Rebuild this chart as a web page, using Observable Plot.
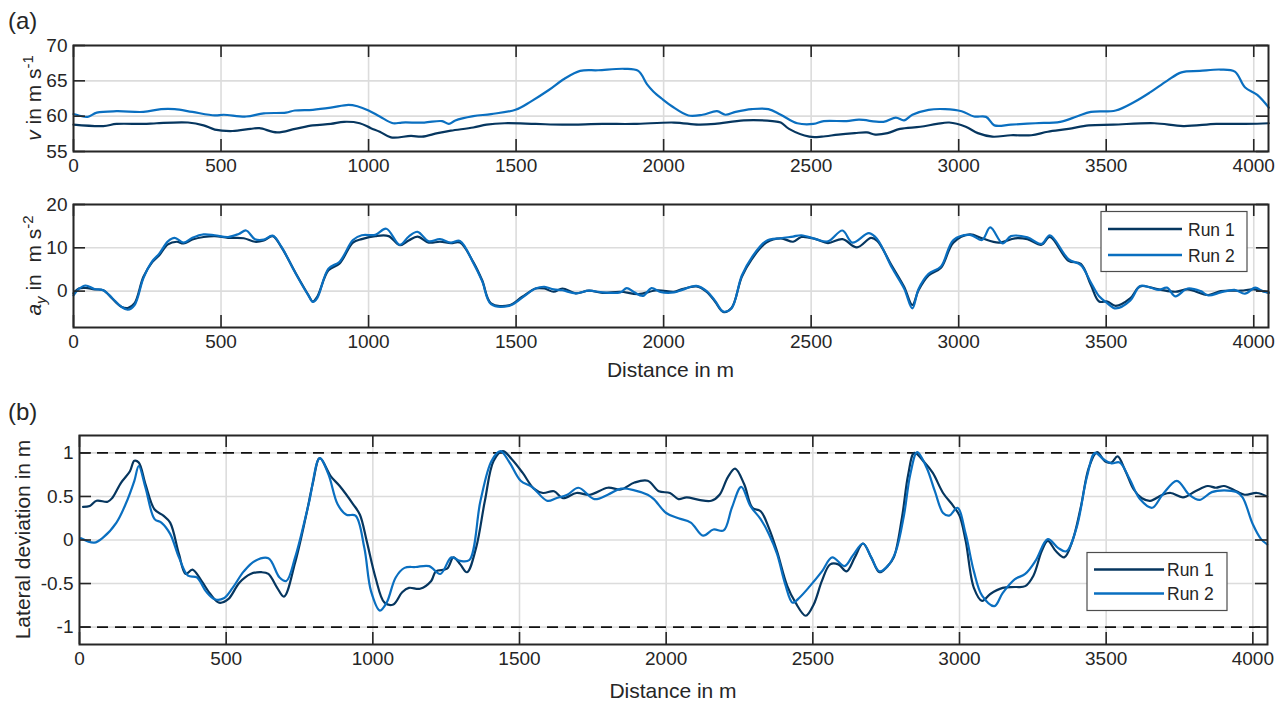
<!DOCTYPE html>
<html><head><meta charset="utf-8">
<script src="https://cdn.jsdelivr.net/npm/d3@7"></script>
<script src="https://cdn.jsdelivr.net/npm/@observablehq/plot@0.6"></script>
<style>
body{margin:0;background:#fff;}
#root{position:relative;width:1284px;height:702px;overflow:hidden;background:#fff;}
.pane{position:absolute;left:0;}
#overlay{position:absolute;left:0;top:0;}
</style></head>
<body><div id="root"></div>
<script>
// ---------- data ----------
const xTicks = [0, 500, 1000, 1500, 2000, 2500, 3000, 3500, 4000];
const speedTicks = [55, 60, 65, 70];
const accTicks = [0, 10, 20];
const devTicks = [-1, -0.5, 0, 0.5, 1];
const devLimits = [-1, 1];
const runNames = ["Run 1", "Run 2"];

const speedDistRun1 = [0,101,146,237,282,388,441,479,539,600,630,690,751,811,872,917,970,1008,1038,1076,1144,1181,1234,1279,1355,1400,1461,1566,1657,1793,1899,2035,2118,2174,2272,2369,2397,2425,2494,2536,2592,2648,2689,2717,2759,2801,2870,2926,2968,3024,3065,3114,3177,3246,3302,3372,3441,3524,3663,3761,3873,3970,4051];
const speedRun1 = [58.8,58.6,58.9,58.9,59.0,59.1,58.7,58.1,57.9,58.2,58.3,57.7,58.2,58.7,58.9,59.2,59.0,58.3,57.8,57.0,57.2,57.1,57.6,57.95,58.4,58.8,59.0,58.9,58.8,58.9,58.9,59.1,58.8,58.9,59.4,59.3,59.1,58.2,57.1,57.1,57.4,57.6,57.7,57.4,57.6,58.2,58.5,58.9,59.1,58.5,57.6,57.1,57.3,57.3,57.8,58.2,58.7,58.8,59.0,58.6,58.9,58.9,59.0];

const speedDistRun2 = [0,18,48,79,146,237,297,343,403,479,509,585,645,720,750,811,872,932,962,1000,1038,1083,1113,1189,1249,1272,1294,1355,1415,1498,1551,1611,1664,1717,1778,1868,1914,1944,1965,1993,2028,2084,2132,2181,2209,2244,2299,2355,2397,2453,2508,2543,2620,2662,2745,2787,2815,2843,2898,2954,3010,3052,3093,3121,3177,3260,3344,3400,3448,3532,3595,3650,3706,3755,3817,3887,3936,3970,4012,4051];
const speedRun2 = [60.3,60.1,59.9,60.5,60.7,60.6,61.0,61.0,60.6,60.1,60.2,59.95,60.4,60.5,60.8,60.9,61.2,61.6,61.4,60.8,59.95,59.0,59.1,59.1,59.3,58.9,59.4,60.0,60.3,60.9,62.1,63.7,65.3,66.4,66.5,66.7,66.4,64.5,63.5,62.5,61.4,60.1,60.2,60.7,60.2,60.6,61.0,61.0,60.2,59.0,58.9,59.3,59.3,59.5,59.2,59.8,59.4,60.2,60.9,61.0,60.7,59.95,59.9,58.7,58.8,59.0,59.2,59.95,60.6,60.8,62.0,63.4,65.0,66.2,66.4,66.6,66.3,64.1,63.0,61.2];

const accDistRun1 = [0,18,41,71,101,131,162,184,207,237,267,290,320,350,373,403,441,479,524,577,615,645,675,705,751,796,811,826,864,902,947,977,1023,1068,1106,1136,1166,1204,1242,1279,1310,1355,1385,1415,1476,1521,1566,1596,1627,1657,1702,1747,1793,1853,1914,1979,2035,2063,2111,2146,2174,2202,2230,2265,2299,2348,2397,2439,2467,2516,2557,2606,2655,2703,2724,2773,2815,2843,2864,2898,2940,2982,3038,3079,3135,3191,3233,3281,3309,3372,3414,3448,3476,3504,3532,3581,3615,3678,3734,3776,3846,3888,3957,3999,4051];
const accRun1 = [-0.5,0.6,0.75,0.4,0.2,-1.7,-3.6,-3.9,-2.8,3.3,6.7,8.2,10.8,11.4,11.0,11.9,12.5,12.7,12.3,12.2,11.4,11.7,12.7,10.1,4.4,-0.9,-2.4,-1.3,4.8,6.4,11.2,12.0,12.7,12.7,10.6,11.7,12.6,11.2,11.4,11.1,11.2,6.7,2.5,-2.8,-3.3,-1.3,0.6,0.6,-0.15,0.6,-0.5,0.1,-0.4,-0.15,-0.7,0.2,-0.15,0.45,1.1,-0.15,-2.4,-4.8,-3.9,3.3,7.4,11.2,12.2,11.4,12.5,12.0,11.1,12.0,10.1,12.3,11.6,5.9,1.0,-3.2,0.2,3.6,5.4,11.2,13.1,12.2,11.2,12.2,12.0,10.7,12.5,7.0,6.3,1.4,-2.4,-2.4,-3.4,-1.7,1.1,0.4,-0.15,0.4,-0.9,0.0,0.1,0.4,-0.4];

const accDistRun2 = [0,18,41,71,101,131,162,184,207,237,267,290,320,343,373,403,441,479,524,560,585,615,645,675,705,751,796,811,826,864,902,947,977,1023,1060,1106,1136,1166,1204,1242,1279,1310,1355,1385,1415,1476,1521,1566,1596,1627,1657,1702,1747,1793,1853,1875,1899,1930,1959,1989,2035,2063,2111,2146,2174,2202,2230,2265,2299,2348,2397,2439,2467,2516,2557,2606,2640,2696,2724,2773,2815,2843,2864,2898,2940,2982,3038,3079,3107,3149,3177,3233,3281,3309,3372,3414,3448,3476,3504,3532,3581,3615,3650,3678,3706,3734,3776,3820,3846,3888,3935,3970,4005,4030,4051];
const accRun2 = [-1.0,0.5,1.3,0.5,0.2,-1.6,-3.6,-4.3,-3.2,3.0,6.9,8.6,11.5,12.3,11.2,12.3,13.1,12.9,12.5,13.2,14.0,12.0,11.9,12.8,10.2,4.3,-1.0,-2.5,-1.6,5.2,6.8,11.8,12.9,13.0,14.4,10.7,12.6,13.7,11.5,12.0,11.2,11.6,6.5,2.3,-3.0,-3.4,-1.5,0.6,1.0,0.4,0.2,-0.5,0.1,-0.3,-0.3,0.7,-0.2,-1.1,0.7,-0.2,-0.3,0.3,1.2,0.0,-2.2,-4.7,-4.0,3.6,7.8,11.6,12.2,12.6,12.9,12.0,11.5,14.0,11.2,13.4,12.0,5.5,0.6,-4.0,0.5,4.0,5.7,11.8,13.0,11.8,14.7,11.0,12.7,12.4,10.9,12.9,7.4,6.0,2.0,-1.2,-2.8,-4.0,-2.2,1.2,0.8,0.3,0.8,-1.2,0.6,0.0,-1.0,-0.3,0.3,-0.6,0.8,0.0,-0.3];

const devDistRun1 = [12,35,58,96,111,142,172,187,202,225,256,286,309,339,362,385,416,446,476,507,545,583,621,644,674,697,735,773,796,819,857,887,933,956,979,1009,1040,1070,1100,1123,1161,1199,1215,1253,1275,1298,1321,1352,1382,1412,1443,1473,1511,1549,1580,1618,1648,1694,1740,1801,1846,1892,1937,1975,2013,2042,2070,2112,2154,2182,2210,2235,2266,2294,2322,2350,2378,2413,2441,2476,2503,2531,2559,2587,2615,2643,2671,2699,2727,2755,2776,2804,2825,2846,2881,2909,2944,2979,3000,3021,3049,3077,3105,3147,3189,3224,3252,3280,3301,3329,3357,3385,3413,3441,3469,3497,3518,3539,3566,3594,3622,3650,3692,3720,3762,3804,3846,3874,3902,3944,3972,4014,4049];
const devRun1 = [0.38,0.39,0.45,0.44,0.48,0.66,0.79,0.91,0.89,0.64,0.35,0.28,0.2,-0.16,-0.39,-0.34,-0.47,-0.62,-0.72,-0.68,-0.49,-0.39,-0.37,-0.39,-0.55,-0.65,-0.26,0.29,0.66,0.94,0.73,0.62,0.41,0.29,-0.01,-0.43,-0.72,-0.74,-0.6,-0.55,-0.56,-0.47,-0.36,-0.33,-0.2,-0.28,-0.37,-0.09,0.45,0.91,1.02,0.93,0.77,0.59,0.54,0.56,0.48,0.54,0.52,0.6,0.58,0.66,0.68,0.56,0.54,0.47,0.49,0.46,0.45,0.52,0.72,0.82,0.64,0.37,0.33,0.14,-0.13,-0.53,-0.72,-0.87,-0.74,-0.47,-0.28,-0.28,-0.36,-0.2,-0.04,-0.2,-0.37,-0.3,-0.2,0.26,0.75,1.0,0.89,0.77,0.54,0.39,0.28,-0.01,-0.55,-0.7,-0.62,-0.55,-0.54,-0.53,-0.41,-0.13,-0.01,-0.13,-0.2,-0.01,0.37,0.83,1.01,0.9,0.89,0.96,0.79,0.58,0.48,0.45,0.52,0.54,0.49,0.56,0.62,0.6,0.62,0.56,0.52,0.54,0.5];

const devDistRun2 = [5,50,81,126,157,187,202,225,256,279,309,339,370,400,431,461,492,522,560,598,644,682,705,735,781,819,849,880,910,941,971,994,1024,1047,1078,1108,1146,1192,1230,1268,1298,1329,1367,1405,1435,1466,1504,1542,1595,1625,1663,1701,1755,1801,1846,1892,1937,1958,2000,2042,2084,2126,2161,2196,2224,2256,2287,2322,2350,2378,2406,2431,2455,2490,2531,2566,2608,2636,2671,2699,2727,2755,2783,2811,2832,2856,2888,2916,2944,2965,2993,3021,3049,3077,3119,3147,3189,3224,3259,3301,3336,3364,3399,3434,3462,3490,3518,3546,3580,3615,3657,3692,3741,3783,3818,3860,3902,3944,3965,4000,4028,4049];
const devRun2 = [0.02,-0.03,0.03,0.2,0.41,0.68,0.85,0.6,0.24,0.2,0.07,-0.2,-0.41,-0.43,-0.59,-0.68,-0.67,-0.55,-0.36,-0.24,-0.21,-0.43,-0.47,-0.2,0.41,0.94,0.75,0.41,0.29,0.28,-0.09,-0.59,-0.81,-0.72,-0.43,-0.32,-0.31,-0.3,-0.39,-0.2,-0.24,-0.23,0.45,0.91,1.02,0.89,0.68,0.61,0.45,0.48,0.52,0.6,0.47,0.52,0.59,0.57,0.52,0.47,0.31,0.25,0.2,0.05,0.12,0.11,0.37,0.61,0.39,0.24,0.07,-0.16,-0.51,-0.72,-0.66,-0.53,-0.36,-0.2,-0.3,-0.18,-0.04,-0.2,-0.36,-0.3,-0.13,0.29,0.75,1.01,0.83,0.56,0.31,0.28,0.37,0.07,-0.36,-0.64,-0.76,-0.61,-0.45,-0.39,-0.24,0.01,-0.09,-0.13,0.14,0.72,1.0,0.93,0.88,0.89,0.7,0.47,0.37,0.52,0.68,0.52,0.46,0.55,0.57,0.55,0.49,0.18,0.01,-0.05];

// ---------- styling ----------
const W = 1284;
const XDOMAIN = [0, 4050];
const C1 = "#06365f", C2 = "#0a6fc0";
const INK = "#262626";
const FONT = "'Liberation Sans', Arial, Helvetica, sans-serif";

function rows(ds, vs) { return ds.map((d, i) => ({d, v: vs[i]})); }
const fmt = d => String(d);

function panel({height, mt, mb, ml, mr, ydom, yt, runs, extra = []}) {
  const fw = W - ml - mr, fh = height - mt - mb, T = 12;
  const tk = {stroke: INK, strokeWidth: 1.6};
  const grid = {stroke: "#dcdcdc", strokeOpacity: 1, strokeWidth: 1.6};
  return Plot.plot({
    width: W, height, marginTop: mt, marginBottom: mb, marginLeft: ml, marginRight: mr,
    x: {domain: XDOMAIN}, y: {domain: ydom},
    style: {fontFamily: FONT, fontSize: "19px", color: INK, background: "transparent", overflow: "visible"},
    marks: [
      Plot.gridX(xTicks, grid),
      Plot.gridY(yt, grid),
      ...extra,
      ...runs.map(([data, color]) => Plot.line(data, {x: "d", y: "v", stroke: color, strokeWidth: 2.2, curve: "catmull-rom"})),
      Plot.ruleX(xTicks, {...tk, insetTop: fh - T}),
      Plot.ruleX(xTicks, {...tk, insetBottom: fh - T}),
      Plot.ruleY(yt, {...tk, insetRight: fw - T}),
      Plot.ruleY(yt, {...tk, insetLeft: fw - T}),
      Plot.frame({stroke: INK, strokeWidth: 2}),
      Plot.axisX(xTicks, {tickSize: 0, tickPadding: 7, label: null, tickFormat: fmt, fontSize: 19}),
      Plot.axisY(yt, {tickSize: 0, tickPadding: 6, label: null, tickFormat: fmt, fontSize: 19})
    ]
  });
}

const root = document.getElementById("root");
function place(svg, top) {
  const d = document.createElement("div");
  d.className = "pane"; d.style.top = top + "px";
  d.appendChild(svg); root.appendChild(d);
}

place(panel({height: 180, mt: 45, mb: 29, ml: 73, mr: 16, ydom: [55, 70], yt: speedTicks,
  runs: [[rows(speedDistRun1, speedRun1), C1], [rows(speedDistRun2, speedRun2), C2]]}), 0);
place(panel({height: 220, mt: 24, mb: 73, ml: 73, mr: 16, ydom: [-8.4, 20], yt: accTicks,
  runs: [[rows(accDistRun1, accRun1), C1], [rows(accDistRun2, accRun2), C2]]}), 180);
place(panel({height: 302, mt: 35, mb: 58, ml: 79, mr: 17, ydom: [-1.2, 1.2], yt: devTicks,
  extra: [Plot.ruleY(devLimits, {stroke: "#111", strokeWidth: 1.6, strokeDasharray: "11,7"})],
  runs: [[rows(devDistRun1, devRun1), C1], [rows(devDistRun2, devRun2), C2]]}), 400);

// ---------- overlay text & legends ----------
const ov = d3.select(root).append("svg").attr("id", "overlay")
  .attr("width", W).attr("height", 702)
  .style("font-family", FONT).style("fill", INK);

ov.append("text").attr("x", 8).attr("y", 29).attr("font-size", 24).text("(a)");
ov.append("text").attr("x", 8).attr("y", 420).attr("font-size", 24).text("(b)");

function xLabel(cx, y) {
  ov.append("text").attr("x", cx).attr("y", y).attr("text-anchor", "middle")
    .attr("font-size", 21).text("Distance in m");
}
xLabel(670.5, 377);
xLabel(673, 698);

// y label a1
{
  const t = ov.append("text").attr("transform", "translate(41,98) rotate(-90)")
    .attr("text-anchor", "middle").attr("font-size", 21).style("white-space", "pre");
  t.append("tspan").attr("font-style", "italic").text("v");
  t.append("tspan").text(" in m s");
  t.append("tspan").attr("dy", -8).attr("font-size", 15).text("-1");
}
// y label a2
{
  const t = ov.append("text").attr("transform", "translate(41,265.5) rotate(-90)")
    .attr("text-anchor", "middle").attr("font-size", 21).style("white-space", "pre");
  t.append("tspan").attr("font-style", "italic").text("a");
  t.append("tspan").attr("font-style", "italic").attr("dy", 5).attr("font-size", 15).text("y");
  t.append("tspan").attr("dy", -5).text(" in  m s");
  t.append("tspan").attr("dy", -8).attr("font-size", 15).text("-2");
}
// y label b
ov.append("text").attr("transform", "translate(30,539.5) rotate(-90)")
  .attr("text-anchor", "middle").attr("font-size", 21).text("Lateral deviation in m");

function legend(x, y, w, h, lx1, lx2, ys, tx) {
  ov.append("rect").attr("x", x).attr("y", y).attr("width", w).attr("height", h)
    .attr("fill", "#fff").attr("stroke", "#4d4d4d").attr("stroke-width", 1.2);
  [C1, C2].forEach((c, i) => {
    ov.append("line").attr("x1", lx1).attr("x2", lx2).attr("y1", ys[i]).attr("y2", ys[i])
      .attr("stroke", c).attr("stroke-width", 2.6);
    ov.append("text").attr("x", tx).attr("y", ys[i] + 6.5).attr("font-size", 17.5).text(runNames[i]);
  });
}
legend(1101, 211.5, 146, 60, 1108, 1182, [229, 255], 1188);
legend(1087, 552.5, 140, 58, 1094, 1164, [569.5, 593.5], 1167);
</script></body></html>
